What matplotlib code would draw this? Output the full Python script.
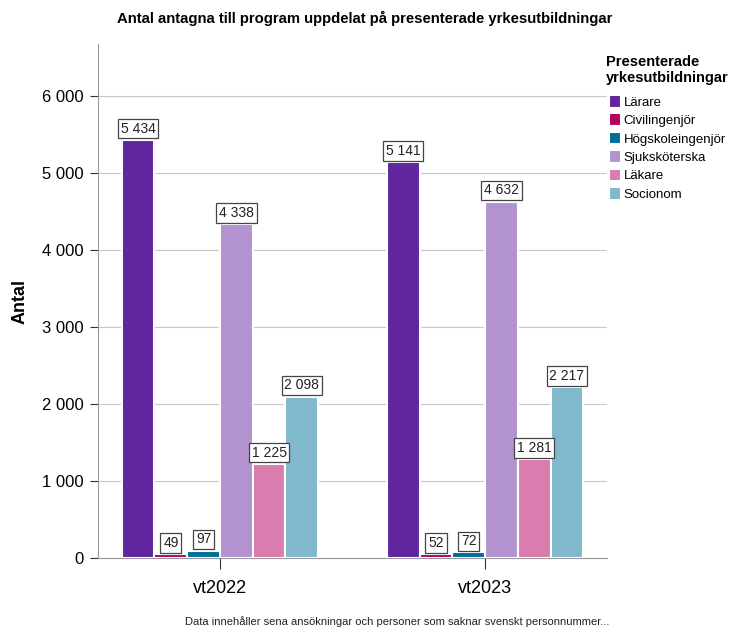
import matplotlib
matplotlib.use("Agg")
import matplotlib.pyplot as plt
import numpy as np

plt.rcParams["font.family"] = ["Liberation Sans", "DejaVu Sans"]

periods = ["vt2022", "vt2023"]
categories = ["Lärare", "Civilingenjör", "Högskoleingenjör", "Sjuksköterska", "Läkare", "Socionom"]
values_vt2022 = [5434, 49, 97, 4338, 1225, 2098]
values_vt2023 = [5141, 52, 72, 4632, 1281, 2217]
colors = ["#60259f", "#b4005f", "#006e96", "#b293d0", "#d87dad", "#80b8cc"]
yticks = [0, 1000, 2000, 3000, 4000, 5000, 6000]
ytick_labels = ["0", "1 000", "2 000", "3 000", "4 000", "5 000", "6 000"]

def fmt(v):
    return f"{v:,}".replace(",", " ")

fig = plt.figure(figsize=(7.29, 6.30), dpi=100)
ax = fig.add_axes([98/729, 1-558/630, (607-98)/729, (558-44)/630])

x = np.arange(len(periods))
w = 0.1235
data = np.array([values_vt2022, values_vt2023])
for i, cat in enumerate(categories):
    pos = x + (i - 2.5) * w
    bars = ax.bar(pos, data[:, i], width=w, color=colors[i], edgecolor="white",
                  linewidth=1.5, label=cat, zorder=3)
    for b, v in zip(bars, data[:, i]):
        ax.annotate(fmt(v), (b.get_x() + b.get_width()/2, v), xytext=(0, 3),
                    textcoords="offset points", ha="center", va="bottom",
                    fontsize=10, color="#222222", zorder=5,
                    bbox=dict(boxstyle="square,pad=0.2", fc="white", ec="#444444", lw=0.9))

ax.set_xlim(-0.46, 1.46)
ax.set_ylim(0, 6680)
ax.set_yticks(yticks)
ax.set_yticklabels(ytick_labels, fontsize=12)
ax.set_xticks(x)
ax.set_xticklabels(periods, fontsize=13)
ax.tick_params(axis="x", length=8, width=0.8, pad=8, color="#333333")
ax.tick_params(axis="y", length=6, width=0.8, pad=4, color="#333333")
ax.grid(axis="y", color="#c8c8c8", lw=0.8, zorder=0)
for s in ["top", "right"]:
    ax.spines[s].set_visible(False)
ax.spines["left"].set_color("#999999")
ax.spines["bottom"].set_color("#999999")
ax.set_ylabel("Antal", fontsize=13, fontweight="bold", labelpad=10)

fig.text(365/729, 1-18/630, "Antal antagna till program uppdelat på presenterade yrkesutbildningar",
         ha="center", va="center", fontsize=10.7, fontweight="bold")
fig.text(397/729, 1-622/630, "Data innehåller sena ansökningar och personer som saknar svenskt personnummer...",
         ha="center", va="center", fontsize=8, color="#222222")

leg = ax.legend(loc="upper left", bbox_to_anchor=(606/729, 1-55/630), bbox_transform=fig.transFigure,
                frameon=False, fontsize=9.5, title="Presenterade\nyrkesutbildningar",
                title_fontproperties={"weight": "bold", "size": 10.5},
                handlelength=0.9, handleheight=1.1, handletextpad=0.2, labelspacing=0.35,
                borderaxespad=0, borderpad=0)
leg._legend_box.align = "center"
leg._legend_box.sep = 7

fig.savefig("out.png", dpi=100)
